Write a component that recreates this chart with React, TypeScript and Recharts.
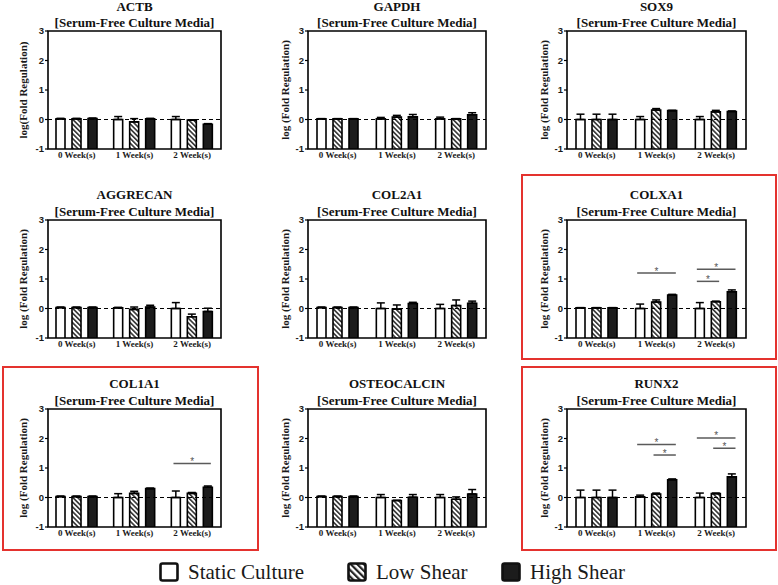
import React from 'react';
import {
  ComposedChart,
  Bar,
  XAxis,
  YAxis,
  ErrorBar,
  ReferenceLine,
  ReferenceArea,
  ReferenceDot,
} from 'recharts';

const WEEKS = ['0 Week(s)', '1 Week(s)', '2 Week(s)'];
const SERIES = ['Static Culture', 'Low Shear', 'High Shear'];
const Y_TICKS = [-1, 0, 1, 2, 3];
const SUBTITLE = '[Serum-Free Culture Media]';

// mean values: [week][static, low, high]
const ACTB_MEAN = [[0.02, 0.02, 0.03], [0.0, -0.08, 0.02], [0.0, -0.02, -0.16]];
const ACTB_ERR = [[0.02, 0.02, 0.02], [0.1, 0.11, 0.02], [0.1, 0.01, 0.02]];

const GAPDH_MEAN = [[0.02, 0.02, 0.02], [0.02, 0.08, 0.09], [0.02, 0.02, 0.16]];
const GAPDH_ERR = [[0.01, 0.01, 0.01], [0.05, 0.06, 0.08], [0.06, 0.01, 0.07]];

const SOX9_MEAN = [[0.0, 0.0, 0.0], [0.0, 0.32, 0.3], [0.0, 0.26, 0.27]];
const SOX9_ERR = [[0.18, 0.18, 0.18], [0.1, 0.05, 0.01], [0.1, 0.05, 0.02]];

const AGGRECAN_MEAN = [[0.03, 0.03, 0.03], [0.02, -0.03, 0.05], [0.0, -0.28, -0.1]];
const AGGRECAN_ERR = [[0.02, 0.02, 0.02], [0.02, 0.08, 0.06], [0.2, 0.09, 0.11]];

const COL2A1_MEAN = [[0.03, 0.03, 0.03], [0.0, -0.02, 0.17], [0.0, 0.1, 0.18]];
const COL2A1_ERR = [[0.02, 0.02, 0.02], [0.19, 0.14, 0.04], [0.14, 0.19, 0.07]];

const COLXA1_MEAN = [[0.02, 0.02, 0.02], [0.0, 0.22, 0.46], [0.0, 0.23, 0.57]];
const COLXA1_ERR = [[0.01, 0.01, 0.01], [0.15, 0.07, 0.02], [0.2, 0.02, 0.06]];

const COL1A1_MEAN = [[0.03, 0.03, 0.03], [0.0, 0.14, 0.3], [0.0, 0.14, 0.35]];
const COL1A1_ERR = [[0.02, 0.02, 0.02], [0.13, 0.07, 0.02], [0.22, 0.03, 0.04]];

const OSTEOCALCIN_MEAN = [[0.03, 0.03, 0.03], [0.0, -0.1, 0.01], [0.0, -0.06, 0.12]];
const OSTEOCALCIN_ERR = [[0.02, 0.02, 0.02], [0.1, 0.0, 0.09], [0.1, 0.08, 0.15]];

const RUNX2_MEAN = [[0.0, 0.0, 0.0], [0.02, 0.12, 0.6], [0.0, 0.13, 0.7]];
const RUNX2_ERR = [[0.25, 0.25, 0.25], [0.06, 0.03, 0.03], [0.15, 0.02, 0.1]];

type Sig = { week: number; from: number; to: number; y: number };
const COLXA1_SIG: Sig[] = [
  { week: 1, from: 0, to: 2, y: 1.2 },
  { week: 2, from: 0, to: 2, y: 1.33 },
  { week: 2, from: 0, to: 1, y: 0.92 },
];
const COL1A1_SIG: Sig[] = [{ week: 2, from: 0, to: 2, y: 1.15 }];
const RUNX2_SIG: Sig[] = [
  { week: 1, from: 0, to: 2, y: 1.8 },
  { week: 1, from: 1, to: 2, y: 1.44 },
  { week: 2, from: 0, to: 2, y: 2.02 },
  { week: 2, from: 1, to: 2, y: 1.67 },
];

const PANELS = [
  { gene: 'ACTB', mean: ACTB_MEAN, err: ACTB_ERR, sig: [] as Sig[], ylabel: 'log(Fold Regulation)' },
  { gene: 'GAPDH', mean: GAPDH_MEAN, err: GAPDH_ERR, sig: [] as Sig[], ylabel: 'log (Fold Regulation)' },
  { gene: 'SOX9', mean: SOX9_MEAN, err: SOX9_ERR, sig: [] as Sig[], ylabel: 'log (Fold Regulation)' },
  { gene: 'AGGRECAN', mean: AGGRECAN_MEAN, err: AGGRECAN_ERR, sig: [] as Sig[], ylabel: 'log (Fold Regulation)' },
  { gene: 'COL2A1', mean: COL2A1_MEAN, err: COL2A1_ERR, sig: [] as Sig[], ylabel: 'log (Fold Regulation)' },
  { gene: 'COLXA1', mean: COLXA1_MEAN, err: COLXA1_ERR, sig: COLXA1_SIG, ylabel: 'log (Fold Regulation)' },
  { gene: 'COL1A1', mean: COL1A1_MEAN, err: COL1A1_ERR, sig: COL1A1_SIG, ylabel: 'log (Fold Regulation)' },
  { gene: 'OSTEOCALCIN', mean: OSTEOCALCIN_MEAN, err: OSTEOCALCIN_ERR, sig: [] as Sig[], ylabel: 'log (Fold Regulation)' },
  { gene: 'RUNX2', mean: RUNX2_MEAN, err: RUNX2_ERR, sig: RUNX2_SIG, ylabel: 'log (Fold Regulation)' },
];

const PLOT_LEFT = [48, 308, 567];
const PLOT_RIGHT = [221, 486, 746];
const PLOT_TOP = [31, 220, 409];
const PLOT_H = 118;
const Y_W = 42;
const TOP_M = 6;
const X_H = 18;
const RIGHT_M = 4;

const RED_BOXES = [
  { left: 521, top: 174, width: 256, height: 186 },
  { left: 2, top: 366, width: 257, height: 185 },
  { left: 521, top: 366, width: 256, height: 185 },
];

const SERIF = '"Liberation Serif", "Times New Roman", serif';
const SANS = '"Liberation Sans", Arial, sans-serif';
const BAR_OFFSET = 0.274;

function Panel({ p, idx }: { p: (typeof PANELS)[number]; idx: number }) {
  const r = Math.floor(idx / 3);
  const c = idx % 3;
  const plotW = PLOT_RIGHT[c] - PLOT_LEFT[c];
  const rows = WEEKS.map((w, i) => ({
    week: w,
    pos: i + 0.5,
    s: p.mean[i][0],
    l: p.mean[i][1],
    h: p.mean[i][2],
    se: [0, p.err[i][0]],
    le: [0, p.err[i][1]],
    he: [0, p.err[i][2]],
  }));
  const labelDist = c === 0 ? 25 : 23;
  const left = PLOT_LEFT[c] - Y_W;
  const top = PLOT_TOP[r] - TOP_M;
  const barPos = (week: number, s: number) => week + 0.5 + (s - 1) * BAR_OFFSET;
  const titleStyle: React.CSSProperties = {
    position: 'absolute',
    left: PLOT_LEFT[c] - 40,
    width: plotW + 80,
    lineHeight: '14px',
    height: 14,
    textAlign: 'center',
    fontFamily: SERIF,
    fontWeight: 700,
    fontSize: 13,
    color: '#111',
    whiteSpace: 'nowrap',
  };
  return (
    <>
      <div style={{ ...titleStyle, top: Math.max(0, PLOT_TOP[r] - 25 - 7) }}>{p.gene}</div>
      <div style={{ ...titleStyle, top: PLOT_TOP[r] - 8 - 7 }}>{SUBTITLE}</div>
      <div style={{ position: 'absolute', left, top }}>
        <ComposedChart
          width={Y_W + plotW + RIGHT_M}
          height={TOP_M + PLOT_H + X_H}
          data={rows}
          margin={{ top: TOP_M, right: RIGHT_M, bottom: 0, left: 0 }}
          barGap={7}
        >
          <XAxis
            xAxisId="cat"
            dataKey="week"
            height={X_H}
            axisLine={false}
            tickLine={false}
            tickSize={0}
            tickMargin={3}
            interval={0}
            tick={{ fontSize: 9, fontWeight: 700, fill: '#1a1a1a', fontFamily: SERIF }}
          />
          <XAxis xAxisId="num" dataKey="pos" type="number" domain={[0, 3]} hide allowDataOverflow />
          <YAxis
            domain={[-1, 3]}
            ticks={Y_TICKS}
            allowDataOverflow
            width={Y_W}
            axisLine={false}
            tickLine={{ stroke: '#000', strokeWidth: 1.2 }}
            tickSize={3}
            tickMargin={1}
            interval={0}
            tick={{ fontSize: 9.5, fontWeight: 700, fill: '#1a1a1a', fontFamily: SANS }}
            label={{
              value: p.ylabel,
              angle: -90,
              position: 'insideLeft',
              offset: Y_W - labelDist,
              style: { textAnchor: 'middle', fontFamily: SERIF, fontWeight: 700, fontSize: 11, fill: '#1a1a1a' },
            }}
          />
          <Bar
            xAxisId="cat"
            dataKey={(d: any) => [-1, d.s]}
            name={SERIES[0]}
            fill="#ffffff"
            stroke="#000"
            strokeWidth={1.6}
            barSize={9}
            isAnimationActive={false}
          >
            <ErrorBar dataKey="se" width={4} stroke="#000" strokeWidth={1.5} direction="y" />
          </Bar>
          <Bar
            xAxisId="cat"
            dataKey={(d: any) => [-1, d.l]}
            name={SERIES[1]}
            fill="url(#hatchBar)"
            stroke="#000"
            strokeWidth={1.6}
            barSize={9}
            isAnimationActive={false}
          >
            <ErrorBar dataKey="le" width={4} stroke="#000" strokeWidth={1.5} direction="y" />
          </Bar>
          <Bar
            xAxisId="cat"
            dataKey={(d: any) => [-1, d.h]}
            name={SERIES[2]}
            fill="#1c1c1c"
            stroke="#000"
            strokeWidth={1.6}
            barSize={9}
            isAnimationActive={false}
          >
            <ErrorBar dataKey="he" width={4} stroke="#000" strokeWidth={1.5} direction="y" />
          </Bar>
          <ReferenceLine xAxisId="num" y={0} stroke="#000" strokeWidth={1.2} strokeDasharray="4 3" />
          {p.sig.map((s, i) => {
            const x1 = barPos(s.week, s.from) - 0.05;
            const x2 = barPos(s.week, s.to) + 0.05;
            return (
              <ReferenceLine
                key={'l' + i}
                xAxisId="num"
                segment={[
                  { x: x1, y: s.y },
                  { x: x2, y: s.y },
                ]}
                stroke="#5a5a5a"
                strokeWidth={1.5}
                ifOverflow="visible"
              />
            );
          })}
          {p.sig.map((s, i) => (
            <ReferenceDot
              key={'d' + i}
              xAxisId="num"
              x={(barPos(s.week, s.from) + barPos(s.week, s.to)) / 2}
              y={s.y}
              r={0}
              ifOverflow="visible"
              shape={(props: any) => (
                <text
                  x={props.cx}
                  y={props.cy + 1.5}
                  textAnchor="middle"
                  fontSize={10}
                  fontFamily={SANS}
                  fill="#555"
                >
                  *
                </text>
              )}
            />
          ))}
          <ReferenceArea
            xAxisId="num"
            x1={0}
            x2={3}
            y1={-1}
            y2={3}
            fill="none"
            fillOpacity={0}
            stroke="#000"
            strokeWidth={1.6}
            ifOverflow="visible"
          />
        </ComposedChart>
      </div>
    </>
  );
}

function LegendItem({ left, kind, text }: { left: number; kind: number; text: string }) {
  const fill = kind === 0 ? '#fff' : kind === 1 ? 'url(#hatchLegend)' : '#1c1c1c';
  return (
    <div style={{ position: 'absolute', left, top: 561, height: 22, display: 'flex', alignItems: 'center' }}>
      <svg width={20} height={20} style={{ display: 'block' }}>
        <rect x={1.5} y={1.5} width={17} height={17} rx={2} fill={fill} stroke="#111" strokeWidth={2.6} />
      </svg>
      <span
        style={{
          marginLeft: 9,
          fontFamily: SERIF,
          fontSize: 21,
          color: '#1a1a1a',
          lineHeight: '22px',
          whiteSpace: 'nowrap',
        }}
      >
        {text}
      </span>
    </div>
  );
}

export default function App() {
  return (
    <div
      style={{
        position: 'absolute',
        left: 0,
        top: 0,
        width: 778,
        height: 585,
        background: '#fff',
        overflow: 'hidden',
      }}
    >
      <svg width={0} height={0} style={{ position: 'absolute' }}>
        <defs>
          <pattern id="hatchBar" patternUnits="userSpaceOnUse" width={3.4} height={3.4} patternTransform="rotate(-45)">
            <rect width={3.4} height={3.4} fill="#fff" />
            <rect width={1.6} height={3.4} fill="#333" />
          </pattern>
          <pattern id="hatchLegend" patternUnits="userSpaceOnUse" width={4.6} height={4.6} patternTransform="rotate(-45)">
            <rect width={4.6} height={4.6} fill="#fff" />
            <rect width={2.2} height={4.6} fill="#222" />
          </pattern>
        </defs>
      </svg>
      {RED_BOXES.map((b, i) => (
        <div
          key={i}
          style={{
            position: 'absolute',
            left: b.left,
            top: b.top,
            width: b.width,
            height: b.height,
            border: '2px solid #e4322e',
            boxSizing: 'border-box',
          }}
        />
      ))}
      {PANELS.map((p, i) => (
        <Panel key={p.gene} p={p} idx={i} />
      ))}
      <LegendItem left={159} kind={0} text={SERIES[0]} />
      <LegendItem left={347} kind={1} text={SERIES[1]} />
      <LegendItem left={501} kind={2} text={SERIES[2]} />
    </div>
  );
}
